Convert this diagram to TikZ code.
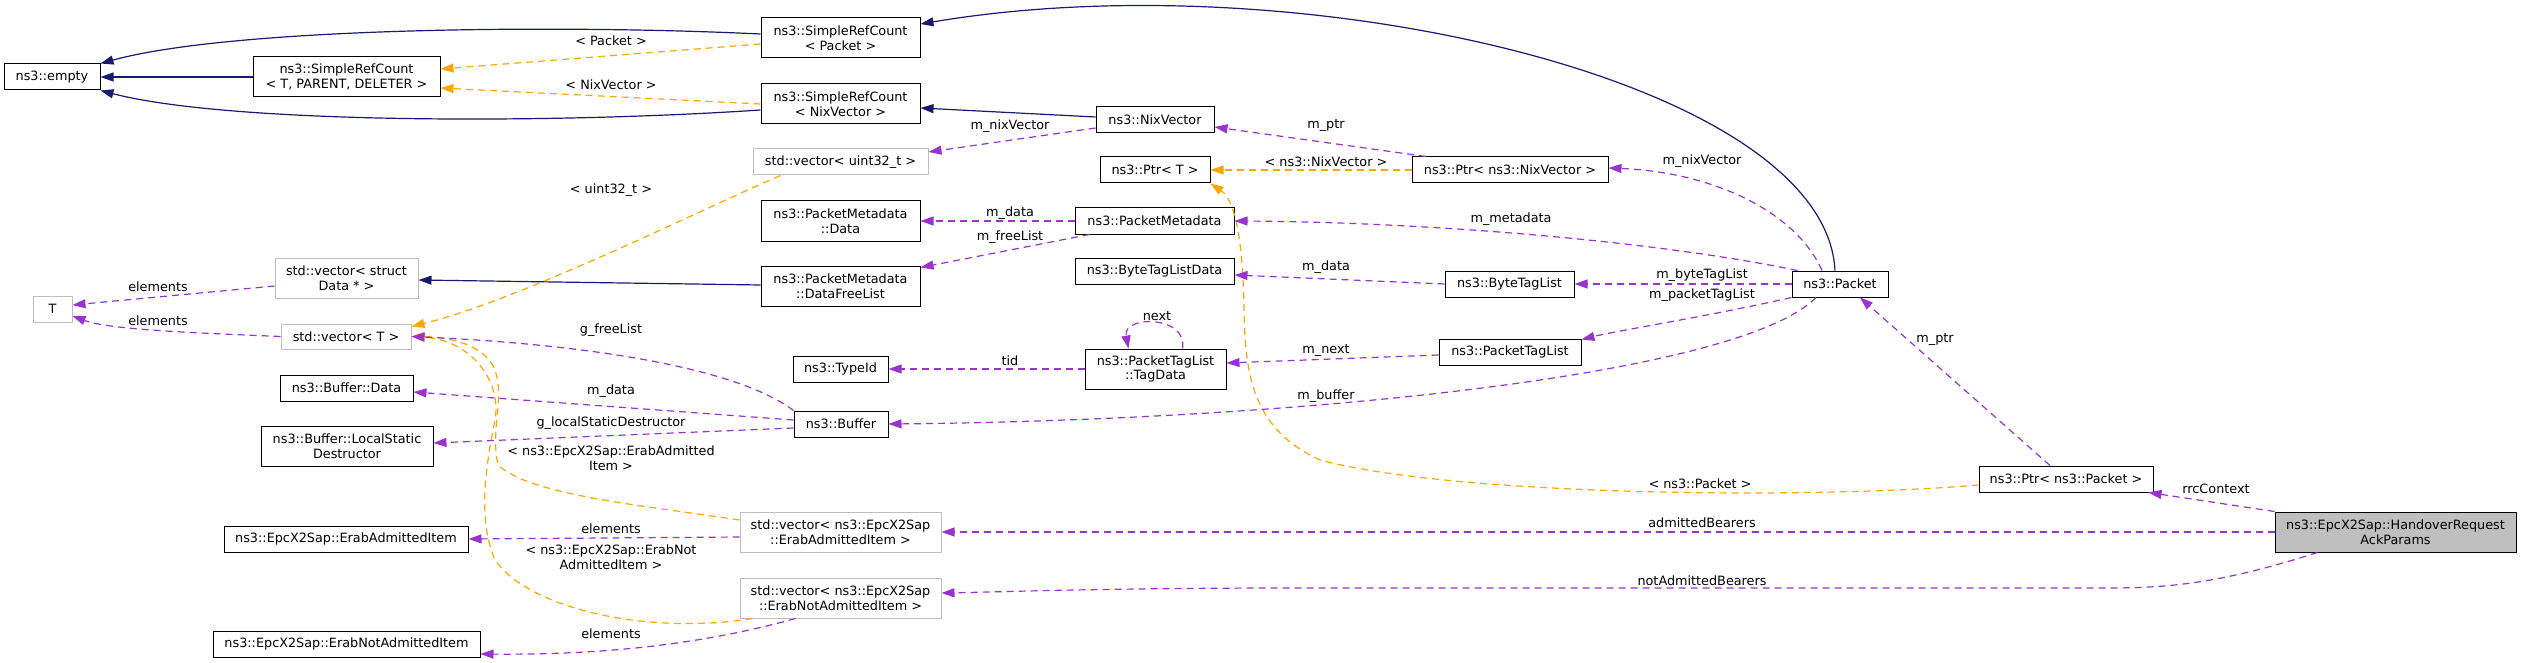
\documentclass[tikz,border=0pt]{standalone}
\usepackage{fontspec}
\setmainfont{DejaVu Sans}
\usetikzlibrary{arrows.meta}
\definecolor{inhc}{HTML}{191970}
\definecolor{usec}{HTML}{9A32CD}
\definecolor{tplc}{HTML}{FFA500}
\definecolor{greyb}{HTML}{BFBFBF}
\newcommand{\nf}{\fontsize{12.8pt}{14.5pt}\selectfont}
\begin{document}
\begin{tikzpicture}[x=1pt,y=-1pt,
  box/.style={draw=black, line width=1pt, inner sep=0pt, align=center, font=\nf, fill=white},
  gbox/.style={box, draw=greyb},
  lbl/.style={inner sep=0pt, align=center, font=\nf},
  tip/.style={-{Triangle[length=13pt,width=9pt]}},
  inh/.style={tip, draw=inhc, line width=1.2pt},
  use/.style={tip, draw=usec, line width=1.2pt, dash pattern=on 7pt off 5pt},
  tpl/.style={tip, draw=tplc, line width=1.2pt, dash pattern=on 7pt off 5pt},
]
\useasboundingbox (0,0) rectangle (2521,663);
% nodes
\node[box, minimum width=96pt, minimum height=26pt] (empty) at (52,77) {ns3::empty};
\node[box, minimum width=187pt, minimum height=40pt] (srcT) at (346.5,77) {ns3::SimpleRefCount\\< T, PARENT, DELETER >};
\node[box, minimum width=159pt, minimum height=40pt] (srcP) at (840.5,38) {ns3::SimpleRefCount\\< Packet >};
\node[box, minimum width=159pt, minimum height=40pt] (srcN) at (840.5,104) {ns3::SimpleRefCount\\< NixVector >};
\node[gbox, minimum width=175pt, minimum height=26pt] (vecU) at (840.5,162) {std::vector< uint32\_t >};
\node[box, minimum width=159pt, minimum height=40pt] (pmData) at (840.5,221) {ns3::PacketMetadata\\::Data};
\node[box, minimum width=159pt, minimum height=40pt] (pmFree) at (840.5,286) {ns3::PacketMetadata\\::DataFreeList};
\node[gbox, minimum width=143pt, minimum height=40pt] (vecD) at (346.5,278) {std::vector< struct\\Data * >};
\node[gbox, minimum width=39pt, minimum height=26pt] (T) at (52.5,309) {T};
\node[gbox, minimum width=130pt, minimum height=25pt] (vecT) at (346,336.5) {std::vector< T >};
\node[box, minimum width=133pt, minimum height=26pt] (bufData) at (346.5,388) {ns3::Buffer::Data};
\node[box, minimum width=172pt, minimum height=40pt] (bufLSD) at (347,446) {ns3::Buffer::LocalStatic\\Destructor};
\node[box, minimum width=244pt, minimum height=26pt] (erabA) at (346,539) {ns3::EpcX2Sap::ErabAdmittedItem};
\node[box, minimum width=267pt, minimum height=26pt] (erabN) at (346.5,644) {ns3::EpcX2Sap::ErabNotAdmittedItem};
\node[box, minimum width=118pt, minimum height=26pt] (nix) at (1155,120) {ns3::NixVector};
\node[box, minimum width=110pt, minimum height=26pt] (ptrT) at (1155,170) {ns3::Ptr< T >};
\node[box, minimum width=196pt, minimum height=26pt] (ptrN) at (1510,170) {ns3::Ptr< ns3::NixVector >};
\node[box, minimum width=159pt, minimum height=26pt] (pm) at (1154.5,221) {ns3::PacketMetadata};
\node[box, minimum width=159pt, minimum height=26pt] (btld) at (1154.5,271) {ns3::ByteTagListData};
\node[box, minimum width=129pt, minimum height=26pt] (btl) at (1509.5,284) {ns3::ByteTagList};
\node[box, minimum width=96pt, minimum height=26pt] (packet) at (1840,284) {ns3::Packet};
\node[box, minimum width=95pt, minimum height=26pt] (typeid) at (840.5,369) {ns3::TypeId};
\node[box, minimum width=141pt, minimum height=40pt] (tagdata) at (1155.5,369) {ns3::PacketTagList\\::TagData};
\node[box, minimum width=142pt, minimum height=26pt] (ptl) at (1510,352) {ns3::PacketTagList};
\node[box, minimum width=94pt, minimum height=26pt] (buffer) at (841,424) {ns3::Buffer};
\node[gbox, minimum width=201pt, minimum height=40pt] (vecEA) at (840.5,532) {std::vector< ns3::EpcX2Sap\\::ErabAdmittedItem >};
\node[gbox, minimum width=201pt, minimum height=40pt] (vecEN) at (840.5,598) {std::vector< ns3::EpcX2Sap\\::ErabNotAdmittedItem >};
\node[box, minimum width=174pt, minimum height=26pt] (ptrP) at (2066,479) {ns3::Ptr< ns3::Packet >};
\node[box, fill=greyb, minimum width=241pt, minimum height=40pt] (hrap) at (2395.5,532) {ns3::EpcX2Sap::HandoverRequest\\AckParams};

% inheritance edges
\draw[inh] (srcT.west) -- (empty.east);
\draw[inh] ([yshift=4pt]srcP.west) .. controls (550,24) and (230,28) .. (empty.north east);
\draw[inh] ([yshift=-6pt]srcN.west) .. controls (550,124) and (230,124) .. (empty.south east);
\draw[inh] ([xshift=-5pt]packet.north) .. controls (1825,80) and (1300,-40) .. ([yshift=14pt]srcP.east);
\draw[inh] ([yshift=3pt]nix.west) -- ([yshift=-4pt]srcN.east);
\draw[inh] ([yshift=1pt]pmFree.west) -- ([yshift=-2pt]vecD.east);

% template edges
\draw[tpl] ([yshift=-6pt]srcP.west) -- ([yshift=8pt]srcT.east);
\draw[tpl] (srcN.west) -- ([yshift=-11pt]srcT.east);
\draw[tpl] ([xshift=-60pt]vecU.south) .. controls (700,210) and (520,300) .. ([yshift=10pt]vecT.east);
\draw[tpl] (ptrN.west) -- (ptrT.east);
\draw[tpl] ([yshift=-6pt]ptrP.west) .. controls (1800,500) and (1450,495) .. (1320,460)
   .. controls (1255,430) and (1245,380) .. (1244,310) .. controls (1243,240) and (1235,200) .. (ptrT.south east);
\draw[tpl] ([yshift=12pt]vecEA.west) .. controls (640,505) and (530,495) .. (498,465)
   .. controls (490,430) and (505,400) .. (495,370) .. controls (485,345) and (450,337) .. (vecT.east);
\draw[tpl] ([xshift=13pt]vecEN.south west) .. controls (650,635) and (530,610) .. (495,560)
   .. controls (478,520) and (485,470) .. (495,420) .. controls (502,380) and (470,340) .. (vecT.east);

% usage edges
\draw[use] ([yshift=-8pt]nix.west) -- ([yshift=10pt]vecU.east);
\draw[use] ([xshift=-84pt]ptrN.north) -- ([yshift=-7pt]nix.east);
\draw[use] ([xshift=-18pt]packet.north) .. controls (1795,210) and (1710,172) .. ([yshift=2pt]ptrN.east);
\draw[use] (pm.west) -- (pmData.east);
\draw[use] ([xshift=15pt]pm.south west) -- ([yshift=-2pt]pmFree.north east);
\draw[use] ([xshift=6pt]packet.north west) .. controls (1650,240) and (1420,222) .. (pm.east);
\draw[use] ([yshift=-8pt]vecD.west) -- ([yshift=4pt]T.east);
\draw[use] (vecT.west) .. controls (200,333) and (110,330) .. ([yshift=-7pt]T.east);
\draw[use] (btl.west) -- ([yshift=-4pt]btld.east);
\draw[use] (packet.west) -- (btl.east);
\draw[use] (packet.south west) .. controls (1700,318) and (1620,330) .. ([yshift=-1pt]ptl.north east);
\draw[use] ([yshift=-3pt]ptl.west) -- ([yshift=6pt]tagdata.east);
\draw[use] ([xshift=27pt]tagdata.north) .. controls (1188,315) and (1122,315) .. ([xshift=-27pt]tagdata.north);
\draw[use] (tagdata.west) -- (typeid.east);
\draw[use] (buffer.north west) .. controls (740,370) and (600,345) .. (vecT.east);
\draw[use] ([yshift=4pt]buffer.west) -- ([yshift=-4pt]bufData.east);
\draw[use] ([yshift=-4pt]buffer.west) -- ([yshift=3pt]bufLSD.east);
\draw[use] ([xshift=-24pt]packet.south) .. controls (1740,375) and (1300,420) .. (buffer.east);
\draw[use] ([xshift=-16pt]ptrP.north) -- ([xshift=20pt]packet.south);
\draw[use] ([yshift=-5pt]vecEA.west) -- (erabA.east);
\draw[use] ([xshift=-45pt]vecEN.south) .. controls (700,645) and (600,655) .. ([yshift=-10pt]erabN.east);
\draw[use] (hrap.north west) -- ([xshift=-5pt]ptrP.south east);
\draw[use] (hrap.west) -- (vecEA.east);
\draw[use] ([xshift=43pt]hrap.south west) .. controls (2200,590) and (2150,588) .. (2080,588) -- (1300,588)
   .. controls (1100,588) and (1000,592) .. ([yshift=5pt]vecEN.east);

% labels
\node[lbl] (l1) at (611,41) {< Packet >};
\node[lbl] (l2) at (611,85) {< NixVector >};
\node[lbl] (l3) at (611,190) {< uint32\_t >};
\node[lbl] (l4) at (158,287) {elements};
\node[lbl] (l5) at (158,321) {elements};
\node[lbl] (l6) at (611,330) {g\_freeList};
\node[lbl] (l7) at (611,391) {m\_data};
\node[lbl] (l8) at (611,423) {g\_localStaticDestructor};
\node[lbl] (l9) at (611,458) {< ns3::EpcX2Sap::ErabAdmitted\\Item >};
\node[lbl] (l10) at (611,529) {elements};
\node[lbl] (l11) at (611,557) {< ns3::EpcX2Sap::ErabNot\\AdmittedItem >};
\node[lbl] (l12) at (611,634) {elements};
\node[lbl] (l13) at (1010,126) {m\_nixVector};
\node[lbl] (l14) at (1326,126) {m\_ptr};
\node[lbl] (l15) at (1326,162) {< ns3::NixVector >};
\node[lbl] (l16) at (1010,213) {m\_data};
\node[lbl] (l17) at (1010,237) {m\_freeList};
\node[lbl] (l18) at (1511,219) {m\_metadata};
\node[lbl] (l19) at (1326,267) {m\_data};
\node[lbl] (l20) at (1157,316) {next};
\node[lbl] (l21) at (1010,361) {tid};
\node[lbl] (l22) at (1326,351) {m\_next};
\node[lbl] (l23) at (1326,396) {m\_buffer};
\node[lbl] (l24) at (1702,161) {m\_nixVector};
\node[lbl] (l25) at (1702,275) {m\_byteTagList};
\node[lbl] (l26) at (1702,295) {m\_packetTagList};
\node[lbl] (l27) at (1935,340) {m\_ptr};
\node[lbl] (l28) at (1700,484) {< ns3::Packet >};
\node[lbl] (l29) at (2216,489) {rrcContext};
\node[lbl] (l30) at (1702,523) {admittedBearers};
\node[lbl] (l31) at (1702,581) {notAdmittedBearers};
\end{tikzpicture}
\end{document}
